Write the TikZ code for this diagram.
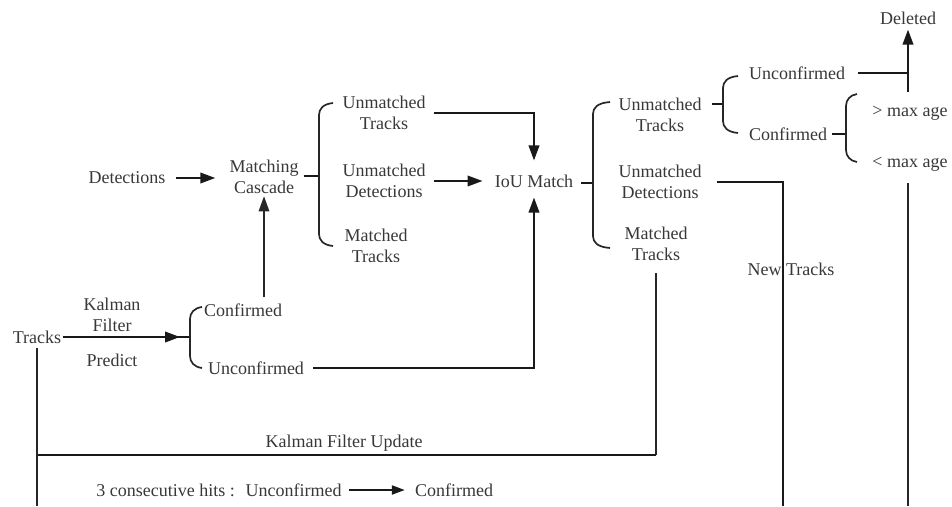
\documentclass[tikz,border=0pt]{standalone}
\usepackage{fontspec}
\setmainfont{Liberation Serif}
\usetikzlibrary{arrows.meta,calc}

% open brace: spine x, tip x, top tip y, bottom tip y
\newcommand{\lbracepath}[4]{%
  \draw[ln] (#2,#3) .. controls (#1+4,#3+1) and (#1,#3+6) .. (#1,#3+12)
            -- (#1,#4-12) .. controls (#1,#4-6) and (#1+4,#4-1) .. (#2,#4);}

\begin{document}
\begin{tikzpicture}[x=1pt,y=-1pt,
  lbl/.style={font=\fontsize{18}{21.5}\selectfont, text=black!78, align=center, inner sep=2pt},
  ln/.style={line width=1.7pt, black!85},
  hln/.style={line width=2.1pt, black!90},
  tick/.style={line width=2.6pt, black!90},
  arr/.style={hln, -{Triangle[length=15pt,width=10.5pt]}},
  smallarr/.style={hln, -{Triangle[length=13pt,width=9pt]}}]
\useasboundingbox (0,0) rectangle (952,506);

% labels
\node[lbl] (tracks) at (37,337) {Tracks};
\node[lbl] (kf)     at (112,315) {Kalman\\Filter};
\node[lbl] (pred)   at (112,360) {Predict};
\node[lbl] (conf1)  at (243,310) {Confirmed};
\node[lbl] (unc1)   at (256,368) {Unconfirmed};
\node[lbl] (det)    at (127,178) {Detections};
\node[lbl] (mc)     at (264,177) {Matching\\Cascade};
\node[lbl] (ut1)    at (384,113) {Unmatched\\Tracks};
\node[lbl] (ud1)    at (384,181) {Unmatched\\Detections};
\node[lbl] (mt1)    at (376,246) {Matched\\Tracks};
\node[lbl] (iou)    at (534,181) {IoU Match};
\node[lbl] (ut2)    at (660,115) {Unmatched\\Tracks};
\node[lbl] (ud2)    at (660,182) {Unmatched\\Detections};
\node[lbl] (mt2)    at (656,244) {Matched\\Tracks};
\node[lbl] (unc2)   at (797,73) {Unconfirmed};
\node[lbl] (conf2)  at (788,134) {Confirmed};
\node[lbl] (gt)     at (910,113) {> max age};
\node[lbl] (lt)     at (910,164) {< max age};
\node[lbl] (del)    at (908,18) {Deleted};
\node[lbl] (newt)   at (791,269) {New Tracks};
\node[lbl] (kfu)    at (344,443) {Kalman Filter Update};
\node[lbl] (hits)   at (219,490) {3 consecutive hits :\hspace{0.6em}Unconfirmed};
\node[lbl] (hconf)  at (454,490) {Confirmed};

% junction points
\coordinate (b1)  at (190,337);
\coordinate (b2)  at (319,176);
\coordinate (b3)  at (593,183);
\coordinate (b4)  at (723,104);
\coordinate (b5)  at (846,134);
\coordinate (dj)  at (908,92);
\coordinate (bot) at (0,506);
\coordinate (kfl) at (37,455);

% predict step
\draw[arr] (tracks.east) -- ([xshift=-10pt]b1);
\draw[hln] ([xshift=-12pt]b1) -- (b1);
\lbracepath{190}{202}{307}{368}

% matching cascade
\draw[arr,shorten <=8pt,shorten >=12pt] (det.east) -- (det.east -| mc.west);
\draw[arr,ln,shorten <=4pt] (mc.south |- conf1.north) -- (mc.south);
\draw[tick,shorten <=3pt] (mc.east |- b2) -- (b2);
\lbracepath{319}{333}{103}{246}

% IoU matching
\draw[arr,shorten <=6pt,shorten >=12pt] (ut1.east) -| (iou.north);
\draw[arr,shorten <=6pt,shorten >=10pt] (ud1.east) -- (ud1.east -| iou.west);
\draw[arr,shorten <=7pt,shorten >=8pt] (unc1.east) -| (iou.south);
\draw[tick,shorten <=6pt] (iou.east |- b3) -- (b3);
\lbracepath{593}{610}{102}{248}

% unmatched tracks
\draw[tick,shorten <=8pt] (ut2.east |- b4) -- (b4);
\lbracepath{723}{738}{76}{133}
\draw[hln,shorten <=11pt] (unc2.east) -- (del.south |- unc2.east);
\draw[arr,shorten >=3pt] (dj) -- (del.south);
\draw[tick,shorten <=3pt] (conf2.east) -- (b5);
\lbracepath{846}{857}{94}{162}
\draw[ln,shorten <=10pt] (lt.south -| dj) -- (dj |- bot);

% new tracks
\draw[hln,shorten <=13pt] (ud2.east) -| (783,506);

% Kalman filter update
\draw[ln,shorten <=10pt] (mt2.south) -- (mt2.south |- kfl);
\draw[hln] (mt2.south |- kfl) -- (kfl);
\draw[ln,shorten <=2pt] (tracks.south) -- (tracks.south |- bot);

% confirmation rule
\draw[smallarr,shorten <=5pt,shorten >=8pt] (hits.east) -- (hconf.west);
\end{tikzpicture}
\end{document}
